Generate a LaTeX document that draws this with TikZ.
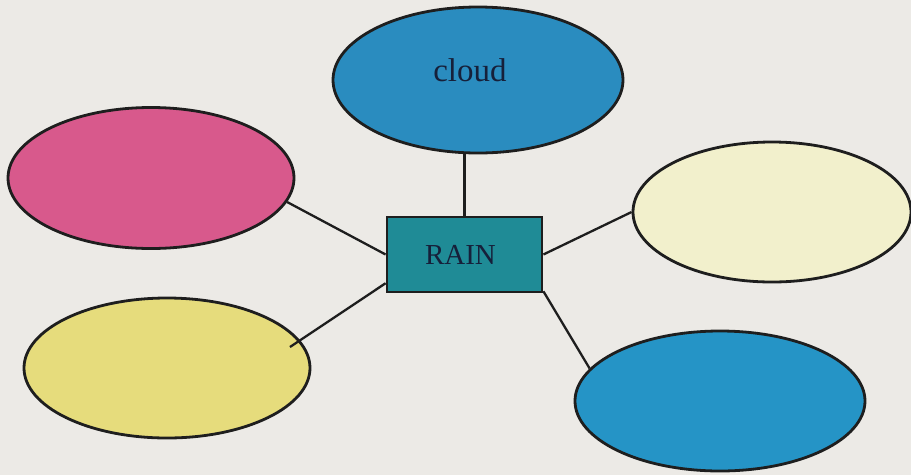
\documentclass[tikz,border=0pt]{standalone}
\usepackage{fontspec}
\setmainfont{Liberation Serif}
\usetikzlibrary{shapes.geometric}
\definecolor{bg}{HTML}{ECEAE6}
\definecolor{cloudblue}{HTML}{2A8CBF}
\definecolor{pinkc}{HTML}{D8598C}
\definecolor{creamc}{HTML}{F2F0CC}
\definecolor{yellowc}{HTML}{E6DC7C}
\definecolor{blue2c}{HTML}{2594C6}
\definecolor{tealc}{HTML}{1F8B96}
\definecolor{inkc}{HTML}{16203A}
\definecolor{linec}{HTML}{1E1E1E}
\tikzset{
  bubble/.style={ellipse, draw=linec, line width=2.8pt, inner sep=0pt},
  mainbox/.style={rectangle, draw=linec, line width=2.8pt, fill=tealc, minimum width=155pt, minimum height=75pt, inner sep=0pt, text=inkc, font=\fontsize{29}{29}\selectfont},
  link/.style={draw=linec, line width=2.3pt}
}
\begin{document}
\begin{tikzpicture}[x=1pt,y=-1pt]
\useasboundingbox (0,0) rectangle (911,475);
\fill[bg] (0,0) rectangle (911,475);
\node[bubble, fill=cloudblue, minimum width=290pt, minimum height=146pt] (cloud) at (478,80) {};
\node[text=inkc, font=\fontsize{33}{33}\selectfont] (cloudtxt) at (470,70) {cloud};
\node[bubble, fill=pinkc, minimum width=286pt, minimum height=141pt] (pink) at (151,178) {};
\node[bubble, fill=creamc, minimum width=278pt, minimum height=140pt] (cream) at (772,212) {};
\node[bubble, fill=yellowc, minimum width=286pt, minimum height=140pt] (yellow) at (167,368) {};
\node[bubble, fill=blue2c, minimum width=290pt, minimum height=140pt] (blue2) at (720,401) {};
\node[mainbox] (rain) at (464.5,254.5) {\hspace*{-8pt}RAIN};
\coordinate (yend) at (290,347);
\draw[link] (rain.north) -- (rain.north |- cloud.south);
\draw[link] (rain.west) -- (pink.-10);
\draw[link] (rain.200) -- (yend);
\draw[link] (rain.east) -- (cream.west);
\draw[link] (rain.-25) -- (blue2.166);
\end{tikzpicture}
\end{document}
